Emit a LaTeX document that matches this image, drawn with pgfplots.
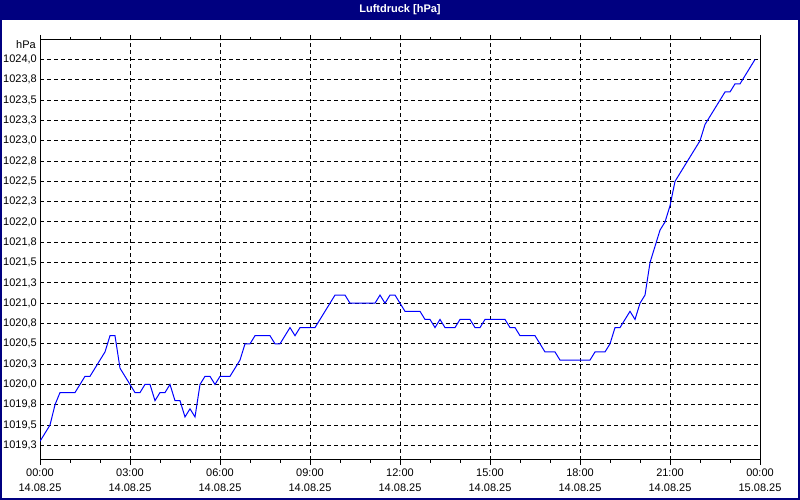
\documentclass[border=0pt]{standalone}
\usepackage{pgfplots}
\pgfplotsset{compat=1.18}
\usepackage{fontspec}
\setmainfont{Liberation Sans}
\definecolor{titlebar}{RGB}{0,0,128}
\definecolor{druck}{RGB}{0,0,255}

% minutes since 14.08.25 00:00, pressure in hPa
\begin{document}
\begin{tikzpicture}[x=1bp,y=1bp]
\useasboundingbox (0,0) rectangle (800,500);
\fill[white] (0,0) rectangle (800,500);
\fill[titlebar] (0,480) rectangle (800,500);
\draw[titlebar, line width=2bp] (1,1) rectangle (799,499);
\node[white, font=\fontsize{11bp}{13bp}\selectfont\bfseries] at (400,490) {Luftdruck [hPa]};
\node[anchor=east, inner sep=0pt, font=\fontsize{11bp}{13bp}\selectfont] at (36,455) {hPa};
\begin{axis}[
    at={(40bp,40bp)}, anchor=south west,
    scale only axis,
    width=720bp, height=420bp,
    xmin=0, xmax=1440,
    ymin=1019.07, ymax=1024.24,
    xtick={0,180,...,1440},
    xticklabels={{00:00\\14.08.25},{03:00\\14.08.25},{06:00\\14.08.25},{09:00\\14.08.25},
                 {12:00\\14.08.25},{15:00\\14.08.25},{18:00\\14.08.25},{21:00\\14.08.25},{00:00\\15.08.25}},
    minor x tick num=2,
    ytick={1019.25,1019.5,1019.75,1020,1020.25,1020.5,1020.75,1021,1021.25,1021.5,
           1021.75,1022,1022.25,1022.5,1022.75,1023,1023.25,1023.5,1023.75,1024},
    yticklabels={{1019,3},{1019,5},{1019,8},{1020,0},{1020,3},{1020,5},{1020,8},{1021,0},{1021,3},{1021,5},
                 {1021,8},{1022,0},{1022,3},{1022,5},{1022,8},{1023,0},{1023,3},{1023,5},{1023,8},{1024,0}},
    tick align=outside,
    major tick length=5bp, minor tick length=3bp,
    ytick style={draw=none},
    xtick style={black, line width=1bp},
    xmajorgrids, ymajorgrids,
    major grid style={black, line width=1bp, dash pattern=on 4bp off 3bp},
    axis line style={black, line width=1bp},
    tick label style={font=\fontsize{11bp}{15bp}\selectfont},
    xticklabel style={align=center},
    yticklabel style={inner sep=0bp, xshift=2bp},
]
\addplot[druck, line width=1bp] coordinates {
(0,1019.3) (10,1019.4) (20,1019.5) (30,1019.75) (40,1019.9) (50,1019.9) (60,1019.9) (70,1019.9)
(80,1020.0) (90,1020.1) (100,1020.1) (110,1020.2) (120,1020.3) (130,1020.4) (140,1020.6) (150,1020.6)
(160,1020.2) (170,1020.1) (180,1020.0) (190,1019.9) (200,1019.9) (210,1020.0) (220,1020.0) (230,1019.8)
(240,1019.9) (250,1019.9) (260,1020.0) (270,1019.8) (280,1019.8) (290,1019.6) (300,1019.7) (310,1019.6)
(320,1020.0) (330,1020.1) (340,1020.1) (350,1020.0) (360,1020.1) (370,1020.1) (380,1020.1) (390,1020.2)
(400,1020.3) (410,1020.5) (420,1020.5) (430,1020.6) (440,1020.6) (450,1020.6) (460,1020.6) (470,1020.5)
(480,1020.5) (490,1020.6) (500,1020.7) (510,1020.6) (520,1020.7) (530,1020.7) (540,1020.7) (550,1020.7)
(560,1020.8) (570,1020.9) (580,1021.0) (590,1021.1) (600,1021.1) (610,1021.1) (620,1021.0) (630,1021.0)
(640,1021.0) (650,1021.0) (660,1021.0) (670,1021.0) (680,1021.1) (690,1021.0) (700,1021.1) (710,1021.1)
(720,1021.0) (730,1020.9) (740,1020.9) (750,1020.9) (760,1020.9) (770,1020.8) (780,1020.8) (790,1020.7)
(800,1020.8) (810,1020.7) (820,1020.7) (830,1020.7) (840,1020.8) (850,1020.8) (860,1020.8) (870,1020.7)
(880,1020.7) (890,1020.8) (900,1020.8) (910,1020.8) (920,1020.8) (930,1020.8) (940,1020.7) (950,1020.7)
(960,1020.6) (970,1020.6) (980,1020.6) (990,1020.6) (1000,1020.5) (1010,1020.4) (1020,1020.4) (1030,1020.4)
(1040,1020.3) (1050,1020.3) (1060,1020.3) (1070,1020.3) (1080,1020.3) (1090,1020.3) (1100,1020.3) (1110,1020.4)
(1120,1020.4) (1130,1020.4) (1140,1020.5) (1150,1020.7) (1160,1020.7) (1170,1020.8) (1180,1020.9) (1190,1020.8)
(1200,1021.0) (1210,1021.1) (1220,1021.5) (1230,1021.7) (1240,1021.9) (1250,1022.0) (1260,1022.2) (1270,1022.5)
(1280,1022.6) (1290,1022.7) (1300,1022.8) (1310,1022.9) (1320,1023.0) (1330,1023.2) (1340,1023.3) (1350,1023.4)
(1360,1023.5) (1370,1023.6) (1380,1023.6) (1390,1023.7) (1400,1023.7) (1410,1023.8) (1420,1023.9) (1430,1024.0)
};
\end{axis}
\end{tikzpicture}
\end{document}
